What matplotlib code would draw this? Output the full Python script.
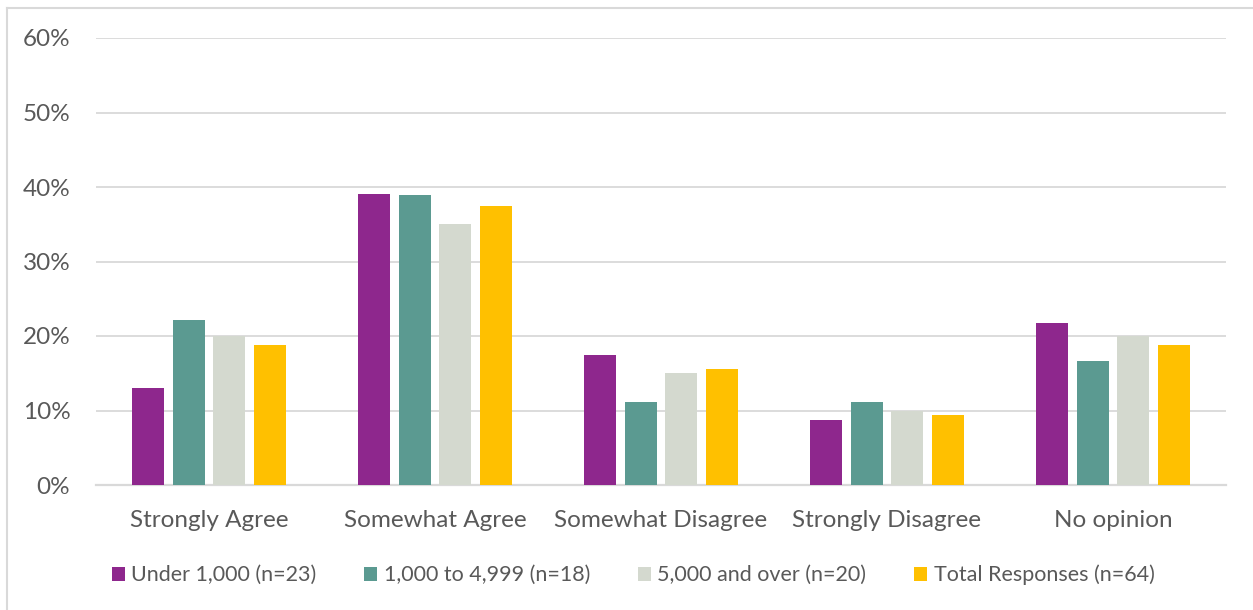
import matplotlib
matplotlib.use("Agg")
import matplotlib.pyplot as plt
from matplotlib.lines import Line2D
from matplotlib.patches import Patch
import numpy as np

categories = ["Strongly Agree", "Somewhat Agree", "Somewhat Disagree",
              "Strongly Disagree", "No opinion"]
series_names = ["Under 1,000 (n=23)", "1,000 to 4,999 (n=18)",
                "5,000 and over (n=20)", "Total Responses (n=64)"]
under_1000 = [13.0, 39.1, 17.4, 8.7, 21.7]
from_1000_to_4999 = [22.2, 38.9, 11.1, 11.1, 16.7]
over_5000 = [20.0, 35.0, 15.0, 10.0, 20.0]
total = [18.75, 37.5, 15.6, 9.4, 18.75]
y_ticks = [0, 10, 20, 30, 40, 50, 60]

colors = ["#8E278D", "#5B9A91", "#D4D9CF", "#FFC000"]
text_color = "#595959"
grid_color = "#D9D9D9"

plt.rcParams["font.family"] = ["Lato", "DejaVu Sans"]

fig = plt.figure(figsize=(12.53, 6.10), dpi=100)
W, H = 1253, 610
ax = fig.add_axes([96 / W, 1 - 485 / H, (1226 - 96) / W, (485 - 38) / H])

x = np.arange(len(categories))
bar_w = 0.143
step = 0.18
offsets = (np.arange(4) - 1.5) * step
all_series = [under_1000, from_1000_to_4999, over_5000, total]
for off, vals, c, name in zip(offsets, all_series, colors, series_names):
    ax.bar(x + off, vals, width=bar_w, color=c, label=name, zorder=3)

ax.set_xlim(-0.5, len(categories) - 0.5)
ax.set_ylim(0, 60)
ax.set_yticks(y_ticks)
ax.set_yticklabels([f"{t}%" for t in y_ticks])
ax.set_xticks(x)
ax.set_xticklabels(categories)
ax.tick_params(axis="both", length=0, labelsize=17.5, colors=text_color)
ax.tick_params(axis="y", pad=18.5)
ax.tick_params(axis="x", pad=18)

ax.grid(axis="y", color=grid_color, linewidth=1.3, zorder=0)
ax.set_axisbelow(True)
for s in ["top", "right", "left"]:
    ax.spines[s].set_visible(False)
ax.spines["bottom"].set_color(grid_color)
ax.spines["bottom"].set_linewidth(1.6)

handles = [Patch(facecolor=c, edgecolor="none") for c in colors]
leg = fig.legend(handles, series_names, loc="center", ncol=4,
                 bbox_to_anchor=(633 / W, 1 - 575 / H), frameon=False,
                 fontsize=15.5, handlelength=0.62, handleheight=0.62,
                 handletextpad=0.3, columnspacing=2.2, labelcolor=text_color)

# chart area outline (left and top edges)
fig.add_artist(Line2D([7 / W, 7 / W], [0, 1 - 8 / H], transform=fig.transFigure,
                      color=grid_color, linewidth=1.5))
fig.add_artist(Line2D([7 / W, 1], [1 - 8 / H, 1 - 8 / H], transform=fig.transFigure,
                      color=grid_color, linewidth=1.5))

fig.savefig("out.png", dpi=100)
